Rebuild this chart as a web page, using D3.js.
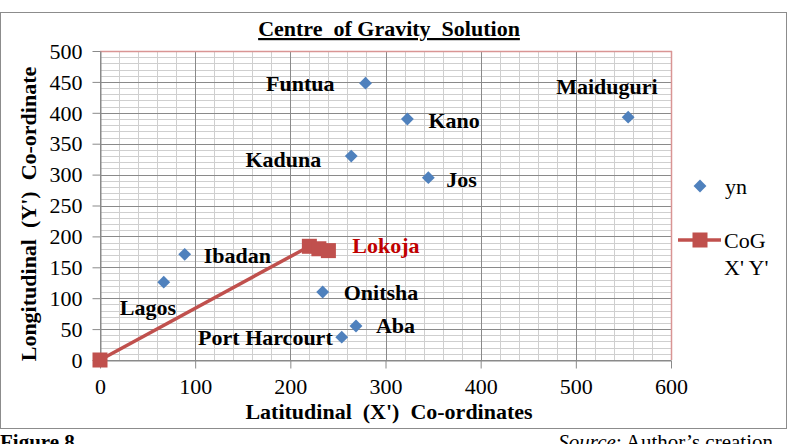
<!DOCTYPE html>
<meta charset="utf-8">
<style>
  body {margin: 0; background: #fff;}
  svg {font-family: 'Liberation Serif', 'Times New Roman', serif; display: block;}
  text {white-space: pre;}
</style>
<body>
<svg width="788" height="444"></svg>
<script src="https://d3js.org/d3.v7.min.js"></script>
<script>

// data
var cities = ["Lagos", "Ibadan", "Funtua", "Kaduna", "Kano", "Maiduguri", "Jos", "Onitsha", "Aba", "Port Harcourt"];
var xn = [67, 89, 279, 264, 323, 555, 345, 234, 269, 254];
var yn = [126, 171, 448, 330, 390, 393, 295, 110, 55, 37];

var cogX = [0, 220, 230, 240];
var cogY = [0, 184, 180, 177];

var xTicks = [0, 100, 200, 300, 400, 500, 600];
var yTicks = [0, 50, 100, 150, 200, 250, 300, 350, 400, 450, 500];

// label placement (offsets in px, text anchor)
var labelPos = [
  {dx: -44, dy: 33, a: "start"},
  {dx: 19, dy: 9, a: "start"},
  {dx: -31, dy: 8, a: "end"},
  {dx: -30, dy: 11, a: "end"},
  {dx: 21, dy: 9, a: "start"},
  {dx: -72, dy: -23, a: "start"},
  {dx: 18, dy: 9, a: "start"},
  {dx: 21, dy: 8, a: "start"},
  {dx: 20, dy: 7, a: "start"},
  {dx: -9, dy: 8, a: "end"}
];

var FS = "22px";
var SERIF = "'Liberation Serif', 'Times New Roman', serif";
var svg = d3.select("svg");

// outer chart border
svg.append("rect")
    .attr("x", 0.5).attr("y", 12.5)
    .attr("width", 786).attr("height", 416)
    .style("fill", "none").style("stroke", "#8c8c8c").style("stroke-width", 1);

var x = d3.scaleLinear().domain([0, 600]).range([100, 671]);
var y = d3.scaleLinear().domain([0, 500]).range([360, 51]);

var grid = svg.append("g");

// minor grid
grid.selectAll("line.vminor")
    .data(d3.range(0, 601, 20))
  .enter().append("line")
    .attr("x1", function(d) { return Math.round(x(d)) + 0.5; })
    .attr("x2", function(d) { return Math.round(x(d)) + 0.5; })
    .attr("y1", y(0)).attr("y2", y(500))
    .style("stroke", "#cfcfcf").style("stroke-width", 1);

grid.selectAll("line.hminor")
    .data(d3.range(0, 501, 10))
  .enter().append("line")
    .attr("y1", function(d) { return Math.round(y(d)) + 0.5; })
    .attr("y2", function(d) { return Math.round(y(d)) + 0.5; })
    .attr("x1", x(0)).attr("x2", x(600))
    .style("stroke", "#cfcfcf").style("stroke-width", 1);

// major grid
grid.selectAll("line.vmajor")
    .data(xTicks)
  .enter().append("line")
    .attr("x1", function(d) { return Math.round(x(d)) + 0.5; })
    .attr("x2", function(d) { return Math.round(x(d)) + 0.5; })
    .attr("y1", y(0)).attr("y2", y(500))
    .style("stroke", "#8a8a8a").style("stroke-width", 1);

grid.selectAll("line.hmajor")
    .data(yTicks)
  .enter().append("line")
    .attr("y1", function(d) { return Math.round(y(d)) + 0.5; })
    .attr("y2", function(d) { return Math.round(y(d)) + 0.5; })
    .attr("x1", x(0)).attr("x2", x(600))
    .style("stroke", "#8a8a8a").style("stroke-width", 1);

// plot area border (top & right reddish)
svg.append("line")
    .attr("x1", x(0)).attr("x2", x(600) + 1)
    .attr("y1", Math.round(y(500)) + 0.5).attr("y2", Math.round(y(500)) + 0.5)
    .style("stroke", "#d99594").style("stroke-width", 1.5);
svg.append("line")
    .attr("x1", Math.round(x(600)) + 0.5).attr("x2", Math.round(x(600)) + 0.5)
    .attr("y1", y(500)).attr("y2", y(0))
    .style("stroke", "#d99594").style("stroke-width", 1.5);

// axes
var xAxis = svg.append("g")
    .attr("transform", "translate(0," + (Math.round(y(0)) + 0.5) + ")")
    .call(d3.axisBottom(x).tickValues(xTicks).tickSizeInner(8).tickSizeOuter(0).tickPadding(18));
var yAxis = svg.append("g")
    .attr("transform", "translate(" + (Math.round(x(0)) + 0.5) + ",0)")
    .call(d3.axisLeft(y).tickValues(yTicks).tickSizeInner(8).tickSizeOuter(0).tickPadding(10));

[xAxis, yAxis].forEach(function(g) {
  g.attr("font-family", null).attr("font-size", null);
  g.select(".domain").style("stroke", "#8a8a8a");
  g.selectAll(".tick line").style("stroke", "#8a8a8a");
  g.selectAll(".tick text")
      .style("font-family", SERIF)
      .style("font-size", FS)
      .style("fill", "#000");
});
xAxis.selectAll(".tick line").attr("y1", 0);
xAxis.selectAll(".tick text").attr("dy", "0.32em");
yAxis.selectAll(".tick text").attr("dy", "0.33em");

// CoG line
var cog = cogX.map(function(d, i) { return [d, cogY[i]]; });
svg.append("path")
    .datum(cog)
    .attr("d", d3.line().x(function(d) { return x(d[0]); }).y(function(d) { return y(d[1]); }))
    .style("fill", "none").style("stroke", "#c0504d").style("stroke-width", 3.5);

svg.selectAll("rect.cog")
    .data(cog)
  .enter().append("rect")
    .attr("x", function(d) { return x(d[0]) - 7.5; })
    .attr("y", function(d) { return y(d[1]) - 7.5; })
    .attr("width", 15).attr("height", 15)
    .style("fill", "#c0504d");

// yn diamonds
var diamond = d3.symbol().type(d3.symbolDiamond2).size(105);
svg.selectAll("path.yn")
    .data(xn)
  .enter().append("path")
    .attr("d", diamond)
    .attr("transform", function(d, i) { return "translate(" + x(d) + "," + y(yn[i]) + ")"; })
    .style("fill", "#4f81bd");

// city labels
svg.selectAll("text.city")
    .data(cities)
  .enter().append("text")
    .attr("x", function(d, i) { return x(xn[i]) + labelPos[i].dx; })
    .attr("y", function(d, i) { return y(yn[i]) + labelPos[i].dy; })
    .attr("text-anchor", function(d, i) { return labelPos[i].a; })
    .style("font-size", FS).style("font-weight", "bold")
    .text(function(d) { return d; });

svg.append("text")
    .attr("x", x(cogX[1]) + 43).attr("y", y(cogY[1]) + 7)
    .style("font-size", FS).style("font-weight", "bold").style("fill", "#c00000")
    .text("Lokoja");

// title
svg.append("text")
    .attr("x", 389).attr("y", 36)
    .attr("text-anchor", "middle")
    .style("font-size", FS).style("font-weight", "bold")
    .style("text-decoration", "underline")
    .text("Centre  of Gravity  Solution");

// axis titles
svg.append("text")
    .attr("x", 389).attr("y", 419)
    .attr("text-anchor", "middle")
    .style("font-size", FS).style("font-weight", "bold")
    .text("Latitudinal  (X')  Co-ordinates");

svg.append("text")
    .attr("transform", "translate(36,214) rotate(-90)")
    .attr("text-anchor", "middle")
    .style("font-size", FS).style("font-weight", "bold")
    .text("Longitudinal  (Y')  Co-ordinate");

// legend
var lg = svg.append("g");
lg.append("path")
    .attr("d", diamond)
    .attr("transform", "translate(700,186)")
    .style("fill", "#4f81bd");
lg.append("text").attr("x", 725).attr("y", 194)
    .style("font-size", FS).text("yn");
lg.append("line")
    .attr("x1", 678).attr("x2", 721).attr("y1", 240).attr("y2", 240)
    .style("stroke", "#c0504d").style("stroke-width", 3.5);
lg.append("rect")
    .attr("x", 692.5).attr("y", 232.5).attr("width", 15).attr("height", 15)
    .style("fill", "#c0504d");
lg.append("text").attr("x", 724).attr("y", 248)
    .style("font-size", FS).text("CoG");
lg.append("text").attr("x", 724).attr("y", 275)
    .style("font-size", FS).text("X' Y'");

// figure caption below the chart
svg.append("text").attr("x", 0).attr("y", 449)
    .style("font-size", "21px").style("font-weight", "bold").text("Figure 8");
svg.append("text").attr("x", 773).attr("y", 449)
    .attr("text-anchor", "end")
    .style("font-size", "21px")
    .html("<tspan font-style='italic'>Source</tspan>: Author\u2019s creation");

</script>
</body>
